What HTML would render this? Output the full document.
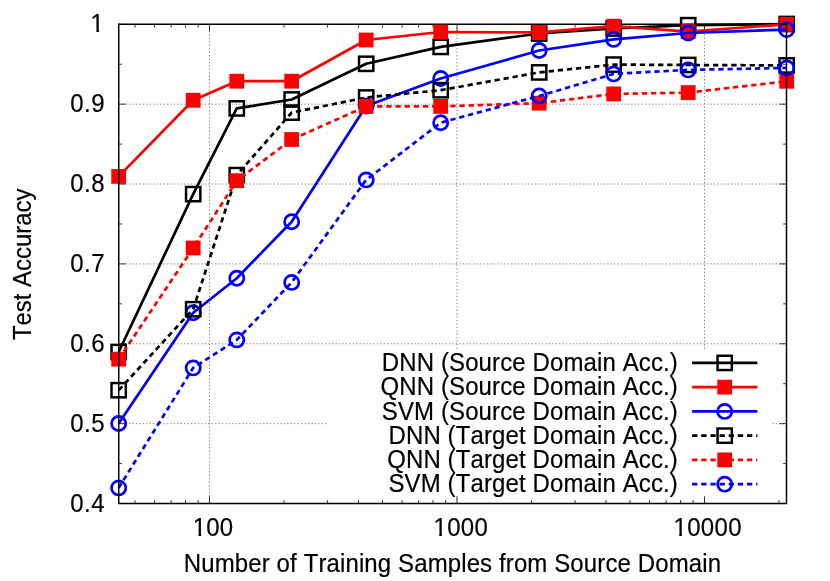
<!DOCTYPE html>
<html><head><meta charset="utf-8"><title>Test Accuracy vs Training Samples</title>
<style>
html,body{margin:0;padding:0;background:#fff;}
body{width:830px;height:581px;overflow:hidden;}
.t{font-family:"Liberation Sans",sans-serif;font-size:24px;fill:#000;font-kerning:none;stroke:#000;stroke-width:0.18px;}
</style></head><body>
<svg width="830" height="581" viewBox="0 0 830 581" style="display:block;will-change:transform">
<rect x="0" y="0" width="830" height="581" fill="#ffffff"/>
<g stroke="#808080" stroke-width="1" stroke-dasharray="1.3 2.14" fill="none">
<line x1="209.50" y1="503.5" x2="209.50" y2="24.3"/>
<line x1="457.00" y1="503.5" x2="457.00" y2="24.3"/>
<line x1="704.50" y1="503.5" x2="704.50" y2="24.3"/>
<line x1="118.75" y1="423.63" x2="786.5" y2="423.63"/>
<line x1="118.75" y1="343.77" x2="786.5" y2="343.77"/>
<line x1="118.75" y1="263.90" x2="786.5" y2="263.90"/>
<line x1="118.75" y1="184.03" x2="786.5" y2="184.03"/>
<line x1="118.75" y1="104.17" x2="786.5" y2="104.17"/>
</g>
<rect x="327.6" y="350.7" width="444.8" height="145.5" fill="#ffffff"/>
<g stroke="#000" stroke-width="0.95" stroke-opacity="0.8" fill="none">
<line x1="135.00" y1="503.5" x2="135.00" y2="500.1"/>
<line x1="135.00" y1="24.3" x2="135.00" y2="27.7"/>
<line x1="154.59" y1="503.5" x2="154.59" y2="500.1"/>
<line x1="154.59" y1="24.3" x2="154.59" y2="27.7"/>
<line x1="171.16" y1="503.5" x2="171.16" y2="500.1"/>
<line x1="171.16" y1="24.3" x2="171.16" y2="27.7"/>
<line x1="185.51" y1="503.5" x2="185.51" y2="500.1"/>
<line x1="185.51" y1="24.3" x2="185.51" y2="27.7"/>
<line x1="198.18" y1="503.5" x2="198.18" y2="500.1"/>
<line x1="198.18" y1="24.3" x2="198.18" y2="27.7"/>
<line x1="209.50" y1="503.5" x2="209.50" y2="496.3"/>
<line x1="209.50" y1="24.3" x2="209.50" y2="31.5"/>
<line x1="284.00" y1="503.5" x2="284.00" y2="500.1"/>
<line x1="284.00" y1="24.3" x2="284.00" y2="27.7"/>
<line x1="327.59" y1="503.5" x2="327.59" y2="500.1"/>
<line x1="327.59" y1="24.3" x2="327.59" y2="27.7"/>
<line x1="358.51" y1="503.5" x2="358.51" y2="500.1"/>
<line x1="358.51" y1="24.3" x2="358.51" y2="27.7"/>
<line x1="382.50" y1="503.5" x2="382.50" y2="500.1"/>
<line x1="382.50" y1="24.3" x2="382.50" y2="27.7"/>
<line x1="402.09" y1="503.5" x2="402.09" y2="500.1"/>
<line x1="402.09" y1="24.3" x2="402.09" y2="27.7"/>
<line x1="418.66" y1="503.5" x2="418.66" y2="500.1"/>
<line x1="418.66" y1="24.3" x2="418.66" y2="27.7"/>
<line x1="433.01" y1="503.5" x2="433.01" y2="500.1"/>
<line x1="433.01" y1="24.3" x2="433.01" y2="27.7"/>
<line x1="445.68" y1="503.5" x2="445.68" y2="500.1"/>
<line x1="445.68" y1="24.3" x2="445.68" y2="27.7"/>
<line x1="457.00" y1="503.5" x2="457.00" y2="496.3"/>
<line x1="457.00" y1="24.3" x2="457.00" y2="31.5"/>
<line x1="531.50" y1="503.5" x2="531.50" y2="500.1"/>
<line x1="531.50" y1="24.3" x2="531.50" y2="27.7"/>
<line x1="575.09" y1="503.5" x2="575.09" y2="500.1"/>
<line x1="575.09" y1="24.3" x2="575.09" y2="27.7"/>
<line x1="606.01" y1="503.5" x2="606.01" y2="500.1"/>
<line x1="606.01" y1="24.3" x2="606.01" y2="27.7"/>
<line x1="630.00" y1="503.5" x2="630.00" y2="500.1"/>
<line x1="630.00" y1="24.3" x2="630.00" y2="27.7"/>
<line x1="649.59" y1="503.5" x2="649.59" y2="500.1"/>
<line x1="649.59" y1="24.3" x2="649.59" y2="27.7"/>
<line x1="666.16" y1="503.5" x2="666.16" y2="500.1"/>
<line x1="666.16" y1="24.3" x2="666.16" y2="27.7"/>
<line x1="680.51" y1="503.5" x2="680.51" y2="500.1"/>
<line x1="680.51" y1="24.3" x2="680.51" y2="27.7"/>
<line x1="693.18" y1="503.5" x2="693.18" y2="500.1"/>
<line x1="693.18" y1="24.3" x2="693.18" y2="27.7"/>
<line x1="704.50" y1="503.5" x2="704.50" y2="496.3"/>
<line x1="704.50" y1="24.3" x2="704.50" y2="31.5"/>
<line x1="779.00" y1="503.5" x2="779.00" y2="500.1"/>
<line x1="779.00" y1="24.3" x2="779.00" y2="27.7"/>
<line x1="118.75" y1="503.50" x2="125.95" y2="503.50"/>
<line x1="786.5" y1="503.50" x2="779.3" y2="503.50"/>
<line x1="118.75" y1="463.57" x2="122.15" y2="463.57"/>
<line x1="786.5" y1="463.57" x2="783.1" y2="463.57"/>
<line x1="118.75" y1="423.63" x2="125.95" y2="423.63"/>
<line x1="786.5" y1="423.63" x2="779.3" y2="423.63"/>
<line x1="118.75" y1="383.70" x2="122.15" y2="383.70"/>
<line x1="786.5" y1="383.70" x2="783.1" y2="383.70"/>
<line x1="118.75" y1="343.77" x2="125.95" y2="343.77"/>
<line x1="786.5" y1="343.77" x2="779.3" y2="343.77"/>
<line x1="118.75" y1="303.83" x2="122.15" y2="303.83"/>
<line x1="786.5" y1="303.83" x2="783.1" y2="303.83"/>
<line x1="118.75" y1="263.90" x2="125.95" y2="263.90"/>
<line x1="786.5" y1="263.90" x2="779.3" y2="263.90"/>
<line x1="118.75" y1="223.97" x2="122.15" y2="223.97"/>
<line x1="786.5" y1="223.97" x2="783.1" y2="223.97"/>
<line x1="118.75" y1="184.03" x2="125.95" y2="184.03"/>
<line x1="786.5" y1="184.03" x2="779.3" y2="184.03"/>
<line x1="118.75" y1="144.10" x2="122.15" y2="144.10"/>
<line x1="786.5" y1="144.10" x2="783.1" y2="144.10"/>
<line x1="118.75" y1="104.17" x2="125.95" y2="104.17"/>
<line x1="786.5" y1="104.17" x2="779.3" y2="104.17"/>
<line x1="118.75" y1="64.23" x2="122.15" y2="64.23"/>
<line x1="786.5" y1="64.23" x2="783.1" y2="64.23"/>
<line x1="118.75" y1="24.30" x2="125.95" y2="24.30"/>
<line x1="786.5" y1="24.30" x2="779.3" y2="24.30"/>
</g>
<line x1="118.75" y1="24.3" x2="779" y2="24.3" stroke="#000" stroke-width="1.45"/>
<polyline points="118.68,352.00 193.19,194.10 236.77,108.40 291.68,99.50 366.18,63.80 440.69,46.90 539.18,33.50 613.68,28.50 688.19,25.20 786.68,24.00" fill="none" stroke="#000000" stroke-width="2.7" stroke-linejoin="round"/>
<rect x="111.53" y="344.85" width="14.3" height="14.3" fill="none" stroke="#000000" stroke-width="2.45"/>
<rect x="186.04" y="186.95" width="14.3" height="14.3" fill="none" stroke="#000000" stroke-width="2.45"/>
<rect x="229.62" y="101.25" width="14.3" height="14.3" fill="none" stroke="#000000" stroke-width="2.45"/>
<rect x="284.53" y="92.35" width="14.3" height="14.3" fill="none" stroke="#000000" stroke-width="2.45"/>
<rect x="359.03" y="56.65" width="14.3" height="14.3" fill="none" stroke="#000000" stroke-width="2.45"/>
<rect x="433.54" y="39.75" width="14.3" height="14.3" fill="none" stroke="#000000" stroke-width="2.45"/>
<rect x="532.03" y="26.35" width="14.3" height="14.3" fill="none" stroke="#000000" stroke-width="2.45"/>
<rect x="606.53" y="21.35" width="14.3" height="14.3" fill="none" stroke="#000000" stroke-width="2.45"/>
<rect x="681.04" y="18.05" width="14.3" height="14.3" fill="none" stroke="#000000" stroke-width="2.45"/>
<rect x="779.53" y="16.85" width="14.3" height="14.3" fill="none" stroke="#000000" stroke-width="2.45"/>
<polyline points="118.68,176.40 193.19,100.25 236.77,81.20 291.68,81.20 366.18,40.00 440.69,32.00 539.18,32.40 613.68,26.20 688.19,31.70 786.68,24.30" fill="none" stroke="#ff0000" stroke-width="2.7" stroke-linejoin="round"/>
<rect x="111.28" y="169.00" width="14.8" height="14.8" fill="#ff0000"/>
<rect x="185.79" y="92.85" width="14.8" height="14.8" fill="#ff0000"/>
<rect x="229.37" y="73.80" width="14.8" height="14.8" fill="#ff0000"/>
<rect x="284.28" y="73.80" width="14.8" height="14.8" fill="#ff0000"/>
<rect x="358.78" y="32.60" width="14.8" height="14.8" fill="#ff0000"/>
<rect x="433.29" y="24.60" width="14.8" height="14.8" fill="#ff0000"/>
<rect x="531.78" y="25.00" width="14.8" height="14.8" fill="#ff0000"/>
<rect x="606.28" y="18.80" width="14.8" height="14.8" fill="#ff0000"/>
<rect x="680.79" y="24.30" width="14.8" height="14.8" fill="#ff0000"/>
<rect x="779.28" y="16.90" width="14.8" height="14.8" fill="#ff0000"/>
<polyline points="118.68,423.50 193.19,312.70 236.77,278.20 291.68,221.70 366.18,106.00 440.69,78.50 539.18,50.50 613.68,39.40 688.19,33.00 786.68,29.60" fill="none" stroke="#0000ff" stroke-width="2.7" stroke-linejoin="round"/>
<circle cx="118.68" cy="423.50" r="7.1" fill="none" stroke="#0000ff" stroke-width="2.7"/>
<circle cx="193.19" cy="312.70" r="7.1" fill="none" stroke="#0000ff" stroke-width="2.7"/>
<circle cx="236.77" cy="278.20" r="7.1" fill="none" stroke="#0000ff" stroke-width="2.7"/>
<circle cx="291.68" cy="221.70" r="7.1" fill="none" stroke="#0000ff" stroke-width="2.7"/>
<circle cx="366.18" cy="106.00" r="7.1" fill="none" stroke="#0000ff" stroke-width="2.7"/>
<circle cx="440.69" cy="78.50" r="7.1" fill="none" stroke="#0000ff" stroke-width="2.7"/>
<circle cx="539.18" cy="50.50" r="7.1" fill="none" stroke="#0000ff" stroke-width="2.7"/>
<circle cx="613.68" cy="39.40" r="7.1" fill="none" stroke="#0000ff" stroke-width="2.7"/>
<circle cx="688.19" cy="33.00" r="7.1" fill="none" stroke="#0000ff" stroke-width="2.7"/>
<circle cx="786.68" cy="29.60" r="7.1" fill="none" stroke="#0000ff" stroke-width="2.7"/>
<polyline points="118.68,390.20 193.19,309.20 236.77,175.10 291.68,112.60 366.18,97.50 440.69,90.20 539.18,72.40 613.68,64.60 688.19,65.00 786.68,65.40" fill="none" stroke="#000000" stroke-width="2.7" stroke-linejoin="round" stroke-dasharray="5.3 3.85"/>
<rect x="111.53" y="383.05" width="14.3" height="14.3" fill="none" stroke="#000000" stroke-width="2.45"/>
<rect x="186.04" y="302.05" width="14.3" height="14.3" fill="none" stroke="#000000" stroke-width="2.45"/>
<rect x="229.62" y="167.95" width="14.3" height="14.3" fill="none" stroke="#000000" stroke-width="2.45"/>
<rect x="284.53" y="105.45" width="14.3" height="14.3" fill="none" stroke="#000000" stroke-width="2.45"/>
<rect x="359.03" y="90.35" width="14.3" height="14.3" fill="none" stroke="#000000" stroke-width="2.45"/>
<rect x="433.54" y="83.05" width="14.3" height="14.3" fill="none" stroke="#000000" stroke-width="2.45"/>
<rect x="532.03" y="65.25" width="14.3" height="14.3" fill="none" stroke="#000000" stroke-width="2.45"/>
<rect x="606.53" y="57.45" width="14.3" height="14.3" fill="none" stroke="#000000" stroke-width="2.45"/>
<rect x="681.04" y="57.85" width="14.3" height="14.3" fill="none" stroke="#000000" stroke-width="2.45"/>
<rect x="779.53" y="58.25" width="14.3" height="14.3" fill="none" stroke="#000000" stroke-width="2.45"/>
<polyline points="118.68,359.20 193.19,248.00 236.77,180.70 291.68,139.50 366.18,106.40 440.69,106.40 539.18,103.20 613.68,93.90 688.19,92.60 786.68,81.30" fill="none" stroke="#ff0000" stroke-width="2.7" stroke-linejoin="round" stroke-dasharray="5.3 3.85"/>
<rect x="111.28" y="351.80" width="14.8" height="14.8" fill="#ff0000"/>
<rect x="185.79" y="240.60" width="14.8" height="14.8" fill="#ff0000"/>
<rect x="229.37" y="173.30" width="14.8" height="14.8" fill="#ff0000"/>
<rect x="284.28" y="132.10" width="14.8" height="14.8" fill="#ff0000"/>
<rect x="358.78" y="99.00" width="14.8" height="14.8" fill="#ff0000"/>
<rect x="433.29" y="99.00" width="14.8" height="14.8" fill="#ff0000"/>
<rect x="531.78" y="95.80" width="14.8" height="14.8" fill="#ff0000"/>
<rect x="606.28" y="86.50" width="14.8" height="14.8" fill="#ff0000"/>
<rect x="680.79" y="85.20" width="14.8" height="14.8" fill="#ff0000"/>
<rect x="779.28" y="73.90" width="14.8" height="14.8" fill="#ff0000"/>
<polyline points="118.68,487.90 193.19,367.90 236.77,339.90 291.68,282.40 366.18,179.90 440.69,122.70 539.18,96.00 613.68,73.90 688.19,69.90 786.68,67.90" fill="none" stroke="#0000ff" stroke-width="2.7" stroke-linejoin="round" stroke-dasharray="5.3 3.85"/>
<circle cx="118.68" cy="487.90" r="7.1" fill="none" stroke="#0000ff" stroke-width="2.7"/>
<circle cx="193.19" cy="367.90" r="7.1" fill="none" stroke="#0000ff" stroke-width="2.7"/>
<circle cx="236.77" cy="339.90" r="7.1" fill="none" stroke="#0000ff" stroke-width="2.7"/>
<circle cx="291.68" cy="282.40" r="7.1" fill="none" stroke="#0000ff" stroke-width="2.7"/>
<circle cx="366.18" cy="179.90" r="7.1" fill="none" stroke="#0000ff" stroke-width="2.7"/>
<circle cx="440.69" cy="122.70" r="7.1" fill="none" stroke="#0000ff" stroke-width="2.7"/>
<circle cx="539.18" cy="96.00" r="7.1" fill="none" stroke="#0000ff" stroke-width="2.7"/>
<circle cx="613.68" cy="73.90" r="7.1" fill="none" stroke="#0000ff" stroke-width="2.7"/>
<circle cx="688.19" cy="69.90" r="7.1" fill="none" stroke="#0000ff" stroke-width="2.7"/>
<circle cx="786.68" cy="67.90" r="7.1" fill="none" stroke="#0000ff" stroke-width="2.7"/>
<path d="M118.75 23.575 V503.5 H786.5 V24.3 H778.5" fill="none" stroke="#000" stroke-width="1.45" stroke-linejoin="miter"/>
<line x1="692.1" y1="362.90" x2="757.4" y2="362.90" stroke="#000000" stroke-width="2.7"/>
<rect x="717.55" y="355.75" width="14.3" height="14.3" fill="none" stroke="#000000" stroke-width="2.45"/>
<text transform="translate(381.83 371.00) scale(1 1.045)" textLength="295.97" lengthAdjust="spacing" class="t">DNN (Source Domain Acc.)</text>
<line x1="692.1" y1="387.15" x2="757.4" y2="387.15" stroke="#ff0000" stroke-width="2.7"/>
<rect x="717.30" y="379.75" width="14.8" height="14.8" fill="#ff0000"/>
<text transform="translate(380.48 395.00) scale(1 1.045)" textLength="297.32" lengthAdjust="spacing" class="t">QNN (Source Domain Acc.)</text>
<line x1="692.1" y1="411.40" x2="757.4" y2="411.40" stroke="#0000ff" stroke-width="2.7"/>
<circle cx="724.70" cy="411.40" r="7.1" fill="none" stroke="#0000ff" stroke-width="2.7"/>
<text transform="translate(381.78 419.50) scale(1 1.045)" textLength="296.02" lengthAdjust="spacing" class="t">SVM (Source Domain Acc.)</text>
<line x1="692.1" y1="435.65" x2="757.4" y2="435.65" stroke="#000000" stroke-width="2.7" stroke-dasharray="5.3 3.85"/>
<rect x="717.55" y="428.50" width="14.3" height="14.3" fill="none" stroke="#000000" stroke-width="2.45"/>
<text transform="translate(388.52 444.00) scale(1 1.045)" textLength="289.28" lengthAdjust="spacing" class="t">DNN (Target Domain Acc.)</text>
<line x1="692.1" y1="459.90" x2="757.4" y2="459.90" stroke="#ff0000" stroke-width="2.7" stroke-dasharray="5.3 3.85"/>
<rect x="717.30" y="452.50" width="14.8" height="14.8" fill="#ff0000"/>
<text transform="translate(387.17 468.00) scale(1 1.045)" textLength="290.63" lengthAdjust="spacing" class="t">QNN (Target Domain Acc.)</text>
<line x1="692.1" y1="484.15" x2="757.4" y2="484.15" stroke="#0000ff" stroke-width="2.7" stroke-dasharray="5.3 3.85"/>
<circle cx="724.70" cy="484.15" r="7.1" fill="none" stroke="#0000ff" stroke-width="2.7"/>
<text transform="translate(388.47 492.00) scale(1 1.045)" textLength="289.33" lengthAdjust="spacing" class="t">SVM (Target Domain Acc.)</text>
<text transform="translate(192.70 536.00) scale(1 1.075)" textLength="40.30" lengthAdjust="spacing" class="t">100</text>
<rect x="193.70" y="533.2" width="4.75" height="4.8" fill="#fff"/>
<rect x="201.15" y="533.2" width="4.6" height="4.8" fill="#fff"/>
<text transform="translate(433.50 536.00) scale(1 1.075)" textLength="54.40" lengthAdjust="spacing" class="t">1000</text>
<rect x="434.50" y="533.2" width="4.75" height="4.8" fill="#fff"/>
<rect x="441.95" y="533.2" width="4.6" height="4.8" fill="#fff"/>
<text transform="translate(673.50 536.00) scale(1 1.075)" textLength="68.00" lengthAdjust="spacing" class="t">10000</text>
<rect x="674.50" y="533.2" width="4.75" height="4.8" fill="#fff"/>
<rect x="681.95" y="533.2" width="4.6" height="4.8" fill="#fff"/>
<text transform="translate(70.30 112.00) scale(1 1.075)" textLength="34.26" lengthAdjust="spacing" class="t">0.9</text>
<text transform="translate(70.30 192.00) scale(1 1.075)" textLength="34.26" lengthAdjust="spacing" class="t">0.8</text>
<text transform="translate(70.30 272.00) scale(1 1.075)" textLength="34.26" lengthAdjust="spacing" class="t">0.7</text>
<text transform="translate(70.30 352.00) scale(1 1.075)" textLength="34.26" lengthAdjust="spacing" class="t">0.6</text>
<text transform="translate(70.30 432.00) scale(1 1.075)" textLength="34.26" lengthAdjust="spacing" class="t">0.5</text>
<text transform="translate(70.30 511.80) scale(1 1.075)" textLength="34.26" lengthAdjust="spacing" class="t">0.4</text>
<text transform="translate(90.60 32.00) scale(1 1.075)" textLength="13.34" lengthAdjust="spacing" class="t">1</text>
<rect x="91.60" y="29.20" width="4.75" height="4.8" fill="#fff"/>
<rect x="99.05" y="29.20" width="4.6" height="4.8" fill="#fff"/>
<text transform="translate(183.80 571.90) scale(1 1.045)" textLength="537.20" lengthAdjust="spacing" class="t">Number of Training Samples from Source Domain</text>
<text transform="translate(30.70 340.10) rotate(-90) scale(1 1.045)" textLength="151.50" lengthAdjust="spacing" class="t">Test Accuracy</text>
</svg>
</body></html>
